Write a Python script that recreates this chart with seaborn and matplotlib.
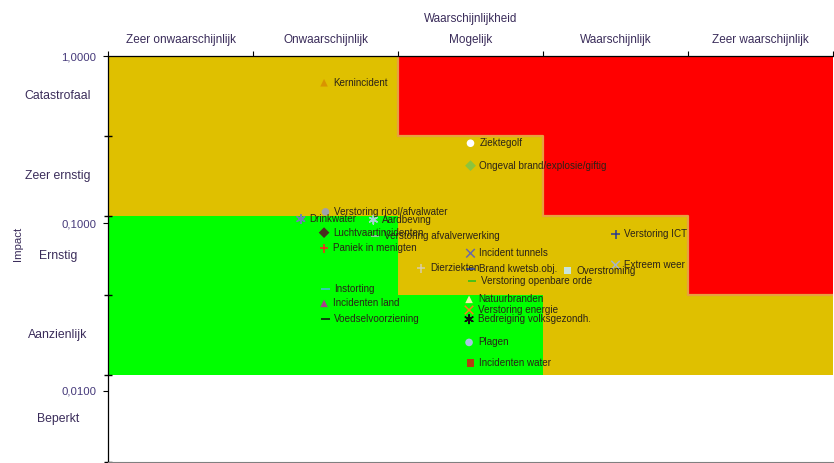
import numpy as np
import pandas as pd
import matplotlib
matplotlib.use("Agg")
import matplotlib.pyplot as plt
import matplotlib.transforms as mtransforms
from matplotlib.ticker import FixedLocator, NullFormatter
import seaborn as sns


# AXIS CATEGORIES
likelihood = ["Zeer onwaarschijnlijk", "Onwaarschijnlijk", "Mogelijk",
              "Waarschijnlijk", "Zeer waarschijnlijk"]
impact = ["Catastrofaal", "Zeer ernstig", "Ernstig", "Aanzienlijk", "Beperkt"]
impact_edges = [1.0, 1 / 3, 1 / 9, 1 / 27, 1 / 81, 0.00374]
y_ticks = [1.0, 0.1, 0.01]
y_tick_labels = ["1,0000", "0,1000", "0,0100"]

# RISK CLASS PER CELL (rows = impact top->bottom, cols = likelihood)
risk_matrix = [
    ["midden", "midden", "hoog", "hoog", "hoog"],
    ["midden", "midden", "midden", "hoog", "hoog"],
    ["laag", "laag", "midden", "midden", "hoog"],
    ["laag", "laag", "laag", "midden", "midden"],
    ["geen", "geen", "geen", "geen", "geen"],
]
risk_colors = {"hoog": "#ff0000", "midden": "#dfc000",
               "laag": "#00ff00", "geen": "#ffffff"}

# SCENARIOS
names = [
    "Kernincident", "Ziektegolf", "Ongeval brand/explosie/giftig",
    "Verstoring riool/afvalwater", "Drinkwater", "Aardbeving",
    "Luchtvaartincidenten", "Verstoring afvalverwerking", "Verstoring ICT",
    "Paniek in menigten", "Incident tunnels", "Extreem weer", "Dierziekten",
    "Brand kwetsb.obj.", "Overstroming", "Verstoring openbare orde",
    "Instorting", "Natuurbranden", "Incidenten land", "Verstoring energie",
    "Voedselvoorziening", "Bedreiging volksgezondh.", "Plagen",
    "Incidenten water",
]
likelihood_score = [
    1.49, 2.50, 2.50,
    1.50, 1.33, 1.83,
    1.49, 1.84, 3.50,
    1.49, 2.50, 3.50, 2.16,
    2.50, 3.17, 2.51,
    1.50, 2.49, 1.49, 2.49,
    1.50, 2.49, 2.49,
    2.50,
]
impact_score = [
    0.692, 0.301, 0.221,
    0.117, 0.106, 0.105,
    0.0879, 0.0840, 0.0859,
    0.0709, 0.0662, 0.0563, 0.0538,
    0.0531, 0.0521, 0.0454,
    0.0403, 0.0351, 0.0332, 0.0303,
    0.0268, 0.0267, 0.0194,
    0.01456,
]
marker_list = [
    "^", "o", "D",
    "o", (6, 2, 0), (6, 2, 0),
    "D", "_", "+",
    "+", "x", "x", "+",
    "_", "s", "_",
    "_", "^", "^", "x",
    "_", (6, 2, 0), "o",
    "s",
]
color_list = [
    "#d99400", "#ffffff", "#8cc43c",
    "#a0a0aa", "#7080b0", "#a8d4d4",
    "#4a3020", "#b0c4c4", "#2c3c90",
    "#ff2020", "#6a6aa8", "#a8b4c8", "#d8ccaa",
    "#2040c8", "#c8e4dc", "#20c020",
    "#40c0e0", "#f0f0a8", "#a84088", "#ff7820",
    "#101010", "#101010", "#a8c4e4",
    "#b04010",
]

df = pd.DataFrame({
    "name": names,
    "x": likelihood_score,
    "y": impact_score,
})
filled = [not isinstance(m, tuple) and m in ("o", "D", "^", "s") for m in marker_list]
df["filled"] = filled
palette = dict(zip(names, color_list))
markers = dict(zip(names, marker_list))


# FIGURE
sns.set_style("ticks")
plt.rcParams["font.family"] = ["Liberation Sans", "DejaVu Sans"]

fig, ax = plt.subplots(figsize=(8.34, 4.63), dpi=100)
fig.subplots_adjust(left=108 / 834, right=833 / 834,
                    top=1 - 56 / 463, bottom=1 - 462 / 463)
ax.set_yscale("log")
ax.set_xlim(0, 5)
ax.set_ylim(impact_edges[-1], impact_edges[0])

# risk matrix background
for r, row in enumerate(risk_matrix):
    top = impact_edges[r]
    bot = impact_edges[r + 1]
    for c, cls in enumerate(row):
        ax.bar(c + 0.5, top - bot, bottom=bot, width=1.0,
               color=risk_colors[cls], linewidth=0, zorder=0)

# outline of the red zone
step_x, step_y = [], []
for c in range(len(likelihood)):
    rows = [r for r in range(len(impact)) if risk_matrix[r][c] == "hoog"]
    if rows:
        edge = impact_edges[max(rows) + 1]
        if not step_x:
            step_x.append(c)
            step_y.append(impact_edges[0])
        step_x += [c, c + 1]
        step_y += [edge, edge]
ax.plot(step_x, step_y, color="#e8a040", linewidth=1.6, zorder=1)

# scenario markers
sub = df[df["filled"]]
sns.scatterplot(data=sub, x="x", y="y", hue="name", style="name",
                palette={n: palette[n] for n in sub["name"]},
                markers={n: markers[n] for n in sub["name"]},
                s=30, linewidth=0, legend=False, ax=ax, zorder=3)
sub = df[~df["filled"]]
sns.scatterplot(data=sub, x="x", y="y", hue="name", style="name",
                palette={n: palette[n] for n in sub["name"]},
                markers={n: markers[n] for n in sub["name"]},
                s=38, linewidth=1.1, legend=False, ax=ax, zorder=3)

for _, p in df.iterrows():
    ax.annotate(p["name"], (p["x"], p["y"]), xytext=(6.3, 0),
                textcoords="offset points", va="center", ha="left",
                fontsize=7.1, color="#2a2218", zorder=4)

label_color = "#3a2c5a"

# x axis on top
ax.xaxis.tick_top()
ax.xaxis.set_label_position("top")
ax.set_xticks(range(len(likelihood) + 1))
ax.set_xticklabels([])
ax.set_xticks(np.arange(len(likelihood)) + 0.5, minor=True)
ax.set_xticklabels(likelihood, minor=True)
ax.tick_params(axis="x", which="major", direction="out", length=3.5,
               width=0.8, color="black")
ax.tick_params(axis="x", which="minor", length=0, pad=7,
               labelsize=8.5, labelcolor=label_color)
ax.set_xlabel("Waarschijnlijkheid", fontsize=8.4, color=label_color,
              labelpad=9)

# y axis
ax.set_yticks(y_ticks)
ax.set_yticklabels(y_tick_labels)
ax.yaxis.set_minor_locator(FixedLocator(impact_edges))
ax.yaxis.set_minor_formatter(NullFormatter())
ax.tick_params(axis="y", which="major", direction="out", length=3.5,
               width=0.8, color="black", pad=5, labelsize=8.2,
               labelcolor="#45397a")
ax.tick_params(axis="y", which="minor", direction="inout", length=5.5,
               width=1.0, color="black")
ax.set_ylabel("Impact", fontsize=8.2, color=label_color)
ax.yaxis.set_label_coords((23 - 108) / 725, 0.537)

trans = mtransforms.blended_transform_factory(ax.transAxes, ax.transData)
for i, lab in enumerate(impact):
    mid = np.sqrt(impact_edges[i] * impact_edges[i + 1])
    ax.text(-0.069, mid, lab, transform=trans, ha="center", va="center",
            fontsize=8.8, color=label_color)

for side in ["top", "left"]:
    ax.spines[side].set_color("black")
    ax.spines[side].set_linewidth(0.9)
ax.spines["right"].set_visible(False)
ax.spines["bottom"].set_color("#808080")
ax.grid(False)

plt.savefig("out.png", dpi=100)
